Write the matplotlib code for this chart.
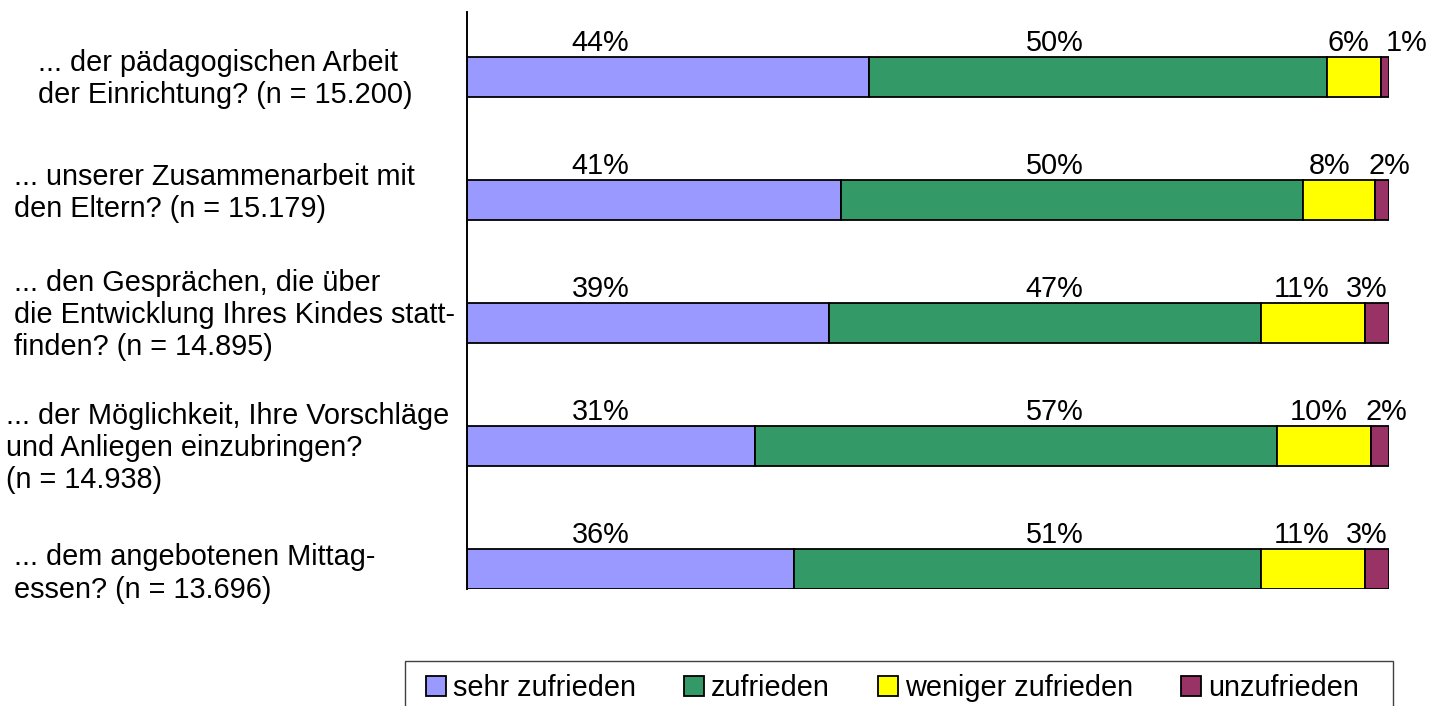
import matplotlib
matplotlib.use("Agg")
import matplotlib.pyplot as plt
import matplotlib.transforms as mtransforms
from matplotlib.patches import Patch, Rectangle

# ---------------- data ----------------
categories = [
    "... der pädagogischen Arbeit\nder Einrichtung? (n = 15.200)",
    "... unserer Zusammenarbeit mit\nden Eltern? (n = 15.179)",
    "... den Gesprächen, die über\ndie Entwicklung Ihres Kindes statt-\nfinden? (n = 14.895)",
    "... der Möglichkeit, Ihre Vorschläge\nund Anliegen einzubringen?\n(n = 14.938)",
    "... dem angebotenen Mittag-\nessen? (n = 13.696)",
]
series_names = ["sehr zufrieden", "zufrieden", "weniger zufrieden", "unzufrieden"]
sehr_zufrieden = [43.6, 40.6, 39.3, 31.25, 35.5]
zufrieden = [49.6, 50.0, 46.8, 56.6, 50.6]
weniger_zufrieden = [5.85, 7.8, 11.3, 10.15, 11.3]
unzufrieden = [0.9, 1.6, 2.6, 2.0, 2.6]

# ---------------- layout / style ----------------
colors = ["#9999FF", "#339966", "#FFFF00", "#993366"]
W, H = 1431, 706
FS = 20.8
bar_h = 0.33
# label centres (x, in % units) for each series and row
label_x = [
    [14.5] * 5,
    [63.7] * 5,
    [95.6, 93.5, 90.5, 92.4, 90.5],
    [101.9, 100.0, 97.6, 99.7, 97.6],
]
cat_left_px = [38.5, 14, 14, 6.5, 14]
cat_dy = [0.016, -0.057, -0.065, 0.016, 0.038]

plt.rcParams["font.family"] = ["Liberation Sans", "DejaVu Sans"]

fig = plt.figure(figsize=(W / 100, H / 100), dpi=100)
ax = fig.add_axes([466.7 / W, 1 - 589.3 / H, 922.6 / W, 577.3 / H])

series = [sehr_zufrieden, zufrieden, weniger_zufrieden, unzufrieden]
ys = list(range(len(categories)))
lefts = [0.0] * len(categories)
for s_idx, (vals, col) in enumerate(zip(series, colors)):
    ax.barh(ys, vals, left=lefts, height=bar_h, color=col,
            edgecolor="black", linewidth=1.3, label=series_names[s_idx])
    for j, v in enumerate(vals):
        ax.annotate(f"{v:.0f}%", xy=(label_x[s_idx][j], j - bar_h / 2),
                    xytext=(0, 4.3), textcoords="offset points",
                    ha="center", va="baseline", fontsize=FS,
                    annotation_clip=False)
    lefts = [l + v for l, v in zip(lefts, vals)]

ax.set_xlim(0, 100)
ax.set_ylim(4 + 0.165, -0.528)
ax.set_xticks([])
ax.set_yticks([])
for sp in ["top", "right", "bottom"]:
    ax.spines[sp].set_visible(False)
ax.spines["left"].set_linewidth(1.4)
ax.spines["left"].set_color("black")

# category labels
trans = mtransforms.blended_transform_factory(fig.transFigure, ax.transData)
for j, cat in enumerate(categories):
    ax.text(cat_left_px[j] / W, j + cat_dy[j], cat, transform=trans,
            ha="left", va="center", multialignment="left",
            fontsize=FS, linespacing=1.2, clip_on=False)

# legend
handles = [Patch(facecolor=c, edgecolor="black", linewidth=1.3, label=n)
           for c, n in zip(colors, series_names)]
fig.legend(handles=handles, loc="upper left",
           bbox_to_anchor=(425.7 / W, 1 - 674 / H), bbox_transform=fig.transFigure,
           ncol=4, frameon=False, fontsize=FS, handlelength=0.69,
           handleheight=0.69, handletextpad=0.26, columnspacing=1.65,
           borderpad=0, borderaxespad=0)
fig.add_artist(Rectangle((405 / W, -0.05), (1393 - 405) / W, (1 - 661 / H) + 0.05,
                         transform=fig.transFigure, fill=False,
                         edgecolor="#404040", linewidth=1.0))

fig.savefig("out.png", dpi=100)
